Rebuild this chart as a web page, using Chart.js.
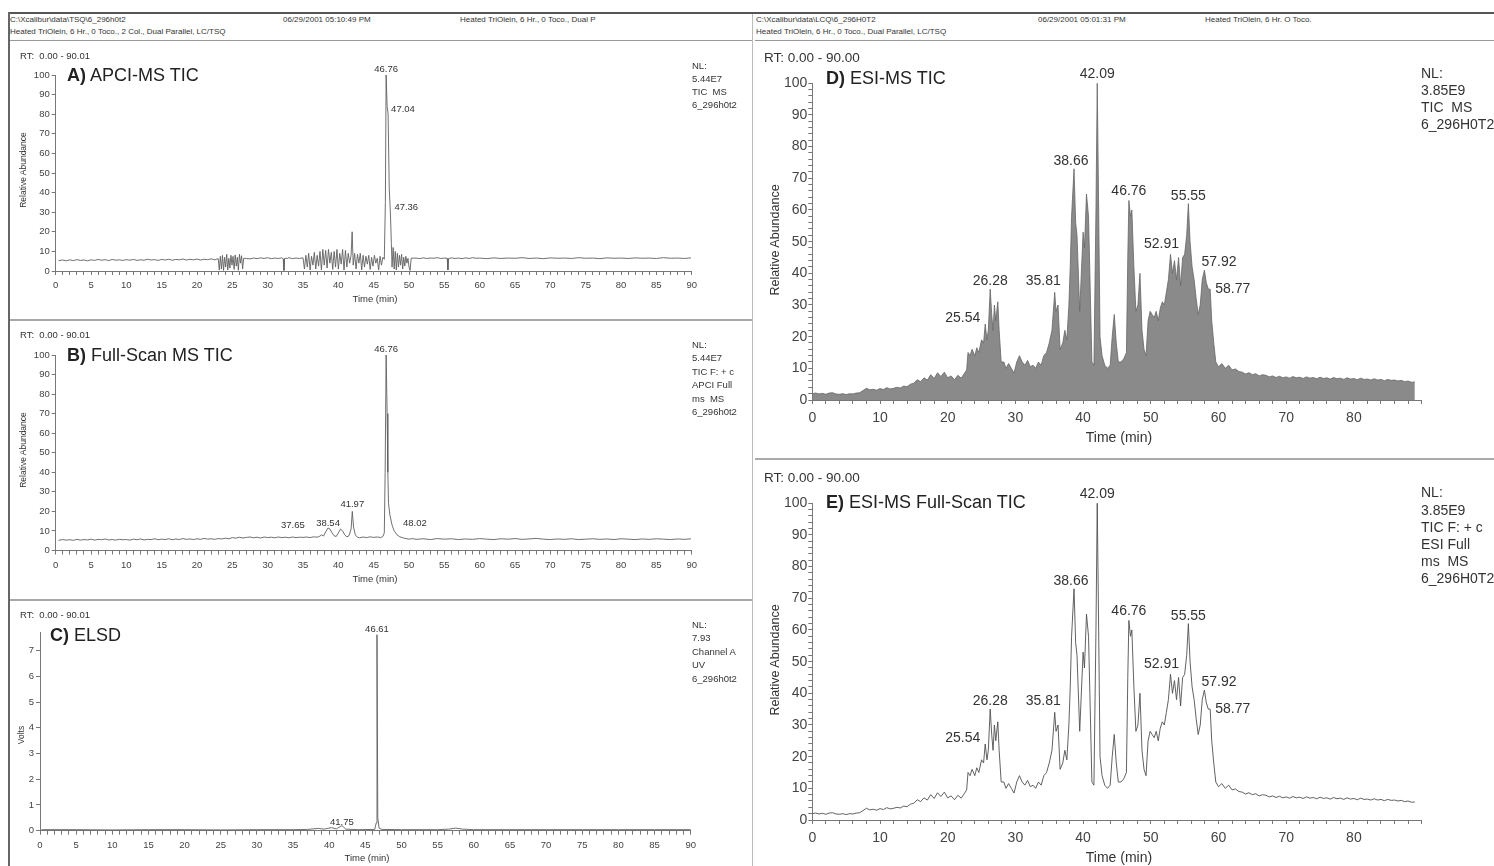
<!DOCTYPE html>
<html><head><meta charset="utf-8">
<script src="https://cdn.jsdelivr.net/npm/chart.js@4.4.1/dist/chart.umd.min.js"></script>
<style>
html,body{margin:0;padding:0;background:#fff;}
#fig{position:relative;width:1494px;height:866px;overflow:hidden;background:#fff;font-family:"Liberation Sans",Arial,sans-serif;color:#333;}
.t{position:absolute;white-space:pre;line-height:1;}
.ln{position:absolute;}
canvas{position:absolute;}
</style></head>
<body><div id="fig">
<div class="ln" style="left:8px;top:12px;width:1486px;height:2px;background:#555"></div>
<div class="ln" style="left:8px;top:12px;width:2px;height:854px;background:#666"></div>
<div class="ln" style="left:10px;top:40px;width:742px;height:1px;background:#999"></div>
<div class="ln" style="left:755px;top:40px;width:739px;height:1px;background:#999"></div>
<div class="ln" style="left:752px;top:14px;width:1px;height:852px;background:#bbb"></div>
<div class="ln" style="left:10px;top:319px;width:742px;height:2px;background:#aaa"></div>
<div class="ln" style="left:10px;top:599px;width:742px;height:2px;background:#aaa"></div>
<div class="ln" style="left:755px;top:458px;width:739px;height:2px;background:#aaa"></div>
<canvas id="cA" width="740" height="278" style="left:10px;top:42px"></canvas>
<canvas id="cB" width="740" height="278" style="left:10px;top:322px"></canvas>
<canvas id="cC" width="740" height="264" style="left:10px;top:602px"></canvas>
<canvas id="cD" width="737" height="412" style="left:757px;top:44px"></canvas>
<canvas id="cE" width="737" height="403" style="left:757px;top:463px"></canvas>
</div>
<script>
// ---------------- DATA ----------------
// A) APCI-MS TIC  [time (min), relative abundance]
const apciTrace = [
[0.4,5.3],[1,5.6],[1.5,5.2],[2,5.7],[2.5,5.3],[3,5.8],[3.5,5.4],[4,5.6],[4.5,5.2],[5,5.7],[5.5,5.4],[6,5.9],[6.5,5.5],[7,5.8],[7.5,5.3],[8,5.9],[8.5,5.5],[9,5.7],[9.5,5.4],[10,5.8],[10.5,5.5],[11,5.9],[11.5,5.4],[12,5.7],[12.5,5.5],[13,6.0],[13.5,5.6],[14,5.8],[14.5,5.4],[15,5.9],[15.5,5.6],[16,6.0],[16.5,5.5],[17,5.9],[17.5,5.7],[18,6.1],[18.5,5.6],[19,6.0],[19.5,5.7],[20,6.1],[20.5,5.6],[21,6.0],[21.5,5.8],[22,6.2],[22.5,5.7],[23,6.3],
[23.15,0.5],[23.3,7.5],[23.45,1],[23.6,8],[23.75,0.3],[23.9,7],[24.05,2],[24.2,8.5],[24.35,0.5],[24.5,6.5],[24.65,1.5],[24.8,8],[24.95,3],[25.1,7.5],[25.25,0.8],[25.4,8.2],[25.55,2.5],[25.7,7],[25.85,0.4],[26.0,8.5],[26.15,4],[26.3,7.8],[26.45,1],[26.6,6.5],
[27,6.4],[27.5,6.2],[28,6.6],[28.5,6.3],[29,6.7],[29.5,6.4],[30,6.8],[30.5,6.3],[31,6.6],[31.5,6.4],[32,6.7],[32.2,6.2],[32.3,0.3],[32.4,6.5],[32.8,6.4],[33,6.8],[33.5,6.3],[34,6.6],[34.5,6.4],[35,6.7],
[35.2,1],[35.4,8],[35.6,2],[35.8,9],[36.0,0.5],[36.2,7.5],[36.4,3],[36.6,9.5],[36.8,1],[37.0,8],[37.2,2.5],[37.4,10],[37.6,0.5],[37.8,11],[38.0,3],[38.2,10.5],[38.4,1.5],[38.6,11],[38.8,4],[39.0,9.5],[39.2,0.8],[39.4,10],[39.6,2],[39.8,11],[40.0,1],[40.2,9],[40.4,3.5],[40.6,11],[40.8,0.5],[41.0,10.5],[41.2,2],[41.4,9],[41.6,4],[41.8,8],[41.95,20],[42.1,3],[42.3,9],[42.5,1],[42.7,8.5],[42.9,4],[43.1,9],[43.3,0.5],[43.5,8],[43.7,2],[43.9,7.5],[44.1,3.5],[44.3,8],[44.5,0.8],[44.7,7],[44.9,2.5],[45.1,8],[45.3,4],[45.5,6.5],[45.7,0.5],[45.9,7.5],[46.1,3],[46.3,7],[46.5,6],
[46.65,35],[46.76,100],[46.9,84],[47.04,80],[47.2,42],[47.36,30],[47.5,14],
[47.6,2],[47.75,12],[47.9,1],[48.05,10],[48.2,0.5],[48.35,9],[48.5,2],[48.65,8],[48.8,3],[48.95,8.5],[49.1,1],[49.25,7],[49.4,2.5],[49.55,7.5],[49.7,4],[49.85,6.5],[50.0,2],[50.15,0.3],[50.3,6.5],
[51,6.6],[51.5,6.3],[52,6.7],[52.5,6.4],[53,6.6],[53.5,6.5],[54,6.8],[54.5,6.4],[55,6.6],[55.4,6.5],[55.5,0.5],[55.6,6.3],[56,6.7],[56.5,6.4],[57,6.6],[57.5,6.3],[58,6.7],[58.5,6.4],[59,6.8],[59.5,6.5],[60,6.6],[61,6.3],[62,6.7],[63,6.4],[64,6.6],[65,6.5],[66,6.8],[67,6.4],[68,6.6],[69,6.3],[70,6.7],[71,6.5],[72,6.6],[73,6.4],[74,6.8],[75,6.5],[76,6.6],[77,6.3],[78,6.7],[79,6.5],[80,6.6],[81,6.4],[82,6.7],[83,6.5],[84,6.6],[85,6.4],[86,6.8],[87,6.5],[88,6.6],[89,6.4],[89.9,6.7]
];
const apciPeaks = ['46.76','47.04','47.36'];

// B) Full-Scan MS TIC
const fullScanTrace = [
[0.4,5.2],[1,5.6],[1.5,5.3],[2,5.5],[2.5,5.2],[3,5.7],[3.5,5.3],[4,5.6],[4.5,5.4],[5,5.8],[5.5,5.3],[6,5.7],[6.5,5.5],[7,5.9],[7.5,5.4],[8,5.6],[8.5,5.3],[9,5.7],[9.5,5.5],[10,5.6],[10.5,5.3],[11,5.8],[11.5,5.5],[12,5.9],[12.5,5.4],[13,5.7],[13.5,5.6],[14,6.0],[14.5,5.5],[15,5.8],[15.5,5.6],[16,6.0],[16.5,5.5],[17,5.9],[17.5,5.6],[18,6.1],[18.5,5.7],[19,5.9],[19.5,5.6],[20,6.0],[20.5,5.7],[21,6.2],[21.5,5.8],[22,6.0],[22.5,5.7],[23,6.1],[23.5,5.9],[24,6.3],[24.5,6.0],[25,6.6],[25.5,6.3],[26,6.8],[26.5,6.4],[27,6.7],[27.5,6.9],[28,6.5],[28.5,6.8],[29,6.4],[29.5,6.9],[30,6.6],[30.5,6.8],[31,6.5],[31.5,6.9],[32,6.6],[32.5,6.8],[33,6.5],[33.5,6.9],[34,6.6],[34.5,6.8],[35,6.7],[35.5,6.9],[36,6.6],[36.5,7.0],[37,6.8],[37.3,7.2],
[37.65,8.0],[37.9,7.4],[38.2,9.5],[38.54,11.5],[38.8,11],[39.1,9],[39.4,7.5],[39.7,7.2],[40.0,9],[40.3,11],[40.6,10],[40.9,8],[41.2,7],[41.5,7.5],[41.8,11],[41.97,20],[42.15,12],[42.4,8],[42.7,6.8],[43.0,6.5],[43.5,6.9],[44,6.6],[44.5,7.0],[45,6.7],[45.5,6.9],[46,6.6],[46.3,7.2],[46.5,9],
[46.62,40],[46.76,100],[46.9,70],[47.0,40],[47.1,24],[47.3,18],[47.6,13],[47.9,10],[48.02,9.5],[48.3,8],[48.7,7],[49.2,6.4],[49.7,6.0],[50,5.8],
[50.5,6.1],[51,5.7],[52,6.0],[53,5.6],[54,6.1],[55,5.8],[56,6.0],[57,5.6],[58,5.9],[59,5.7],[60,6.1],[61,5.8],[62,5.6],[63,6.0],[64,5.8],[65,6.1],[66,5.7],[67,5.9],[68,6.2],[69,5.8],[70,5.6],[71,5.9],[72,5.7],[73,6.0],[74,5.6],[75,5.8],[76,6.0],[77,5.7],[78,5.9],[79,5.6],[80,6.0],[81,5.8],[82,5.6],[83,5.9],[84,5.7],[85,6.0],[86,5.8],[87,5.6],[88,5.9],[89,5.7],[89.9,6.0]
];
const fullScanPeaks = ['37.65','38.54','41.97','46.76','48.02'];

// C) ELSD  [time (min), volts]
const elsdTrace = [
[0.2,0.04],[5,0.04],[10,0.03],[15,0.04],[20,0.04],[25,0.03],[30,0.04],[35,0.04],[37,0.05],[38.5,0.09],[39.3,0.06],[40.3,0.12],[41.0,0.07],[41.75,0.2],[42.3,0.06],[44,0.04],[46.3,0.05],[46.5,0.3],[46.61,7.62],[46.72,0.5],[46.9,0.1],[47.3,0.05],[50,0.04],[55,0.04],[56.5,0.06],[57.5,0.1],[58.5,0.06],[60,0.04],[65,0.04],[70,0.04],[75,0.04],[80,0.04],[85,0.04],[90,0.04]
];
const elsdPeaks = ['41.75','46.61'];

// D/E) ESI-MS TIC  [time (min), relative abundance]
const esiTrace = [
[0,2.0],[0.5,2.2],[1,1.9],[1.5,2.1],[2,1.8],[2.5,2.2],[3,2.3],[3.5,1.9],[4,1.8],[4.5,2.0],[5,1.7],[5.5,2.0],[6,1.9],[6.5,2.2],[7,2.3],[7.5,3.0],[8,3.7],[8.5,3.2],[9,3.4],[9.5,3.1],[10,3.6],[10.5,3.3],[11,3.9],[11.5,3.5],[12,3.7],[12.5,4.0],[13,3.8],[13.5,4.4],[14,4.2],[14.5,5.0],[15,5.3],[15.5,6.4],[16,5.8],[16.5,7.0],[17,6.3],[17.5,8.0],[18,6.8],[18.5,8.6],[19,7.4],[19.5,8.8],[20,7.0],[20.5,7.6],[21,6.4],[21.5,7.8],[22,6.9],[22.5,8.5],[22.8,9.5],
[23,15],[23.3,14],[23.6,16],[24,14],[24.3,16.5],[24.6,15],[25,19],[25.3,18],[25.54,24],[25.8,19],[26.0,22],[26.28,35],[26.5,27],[26.7,22],[26.9,30],[27.1,25],[27.4,31],[27.6,22],[27.9,12],[28.3,12],[28.6,10],[29.0,11.5],[29.4,10],[29.8,8.5],[30.2,12],[30.6,14],[31.0,12],[31.4,11],[31.8,12.5],[32.2,10.5],[32.6,11],[33.0,10],[33.4,12],[33.8,11],[34.2,14],[34.6,15],[35.0,18],[35.4,22],[35.81,34],[36.0,28],[36.3,30],[36.6,16],[37.0,18],[37.3,22],[37.6,19],[37.9,30],[38.1,42],[38.3,58],[38.66,73],[38.9,56],[39.1,52],[39.5,28],[40.0,53],[40.2,48],[40.5,65],[40.8,58],[41.0,40],[41.3,12],[41.6,11],[41.9,60],[42.09,100],[42.3,60],[42.5,20],[42.8,14],[43.2,11],[43.6,10],[44.0,11],[44.3,20],[44.6,27],[44.9,18],[45.2,12],[45.6,12],[46.0,13],[46.4,15],[46.6,45],[46.76,63],[47.0,58],[47.2,60],[47.5,42],[47.8,28],[48.1,30],[48.4,40],[48.7,22],[49.0,16],[49.3,14],[49.6,25],[49.9,28],[50.2,27],[50.5,26],[50.8,28],[51.1,25],[51.4,29],[51.7,31],[52.0,30],[52.3,34],[52.6,38],[52.91,46],[53.2,40],[53.5,44],[53.8,38],[54.1,45],[54.4,36],[54.7,45],[55.0,46],[55.3,52],[55.55,62],[55.8,50],[56.1,42],[56.4,38],[56.7,32],[57.0,27],[57.3,30],[57.6,38],[57.92,41],[58.2,37],[58.5,35],[58.77,35],[59.0,25],[59.3,18],[59.6,12],
[60.0,10.5],[60.5,11.5],[61.0,10],[61.5,11],[62.0,9.5],[62.5,9.8],[63,9],[63.5,8.8],[64,8.2],[64.5,8.6],[65,8.0],[65.5,8.3],[66,7.6],[66.5,8.0],[67,7.8],[67.5,7.3],[68,7.6],[68.5,7.1],[69,7.5],[69.5,7.0],[70,7.3],[70.5,6.9],[71,7.4],[71.5,7.0],[72,7.2],[72.5,6.8],[73,7.3],[73.5,6.9],[74,7.1],[74.5,6.7],[75,7.2],[75.5,6.8],[76,7.0],[76.5,6.6],[77,7.1],[77.5,6.7],[78,6.9],[78.5,6.5],[79,7.0],[79.5,6.6],[80,6.8],[80.5,6.4],[81,6.9],[81.5,6.5],[82,6.6],[82.5,6.3],[83,6.7],[83.5,6.3],[84,6.5],[84.5,6.1],[85,6.5],[85.5,6.2],[86,6.3],[86.5,6.0],[87,6.2],[87.5,5.8],[88,6.0],[88.5,5.6],[89,5.7]
];
const esiPeaks = ['25.54','26.28','35.81','38.66','42.09','46.76','52.91','55.55','57.92','58.77'];

// Tick label values
const timeTicksLeft = [0,5,10,15,20,25,30,35,40,45,50,55,60,65,70,75,80,85,90];
const abundTicksLeft = [0,10,20,30,40,50,60,70,80,90,100];
const voltTicks = [0,1,2,3,4,5,6,7];
const timeTicksRight = [0,10,20,30,40,50,60,70,80];
const abundTicksRight = [0,10,20,30,40,50,60,70,80,90,100];

// ---------------- STYLE ----------------
const FONT = '"Liberation Sans", Arial, sans-serif';
const fig = document.getElementById('fig');
function T(html, left, cy, size, o) {
  o = o || {};
  const d = document.createElement('div');
  d.className = 't';
  d.innerHTML = html;
  d.style.fontSize = size + 'px';
  d.style.color = o.color || '#333';
  if (o.center) {
    d.style.left = left + 'px'; d.style.top = cy + 'px';
    d.style.transform = 'translate(-50%,-50%)' + (o.rot ? ' rotate(' + o.rot + 'deg)' : '');
  } else {
    d.style.left = left + 'px'; d.style.top = (cy - size * 0.5) + 'px';
  }
  fig.appendChild(d);
}
function range(a, b, s) { const r = []; for (let v = a; v <= b + 1e-9; v += s) r.push(Math.round(v * 100) / 100); return r; }

const peakLabelPlugin = {
  id: 'peakLabels',
  afterDatasetsDraw(chart, args, opts) {
    if (!opts || !opts.names) return;
    const ctx = chart.ctx, xs = chart.scales.x, ys = chart.scales.y;
    const pts = chart.data.datasets[0].data;
    ctx.save();
    ctx.font = opts.font; ctx.fillStyle = opts.color; ctx.textBaseline = 'alphabetic';
    opts.names.forEach((name, i) => {
      const t = parseFloat(name);
      const st = opts.styles[i] || {};
      let best = pts[0];
      pts.forEach(p => { if (Math.abs(p.x - t) < Math.abs(best.x - t)) best = p; });
      const px = xs.getPixelForValue(t) + (st.dx || 0);
      const py = ys.getPixelForValue(best.y) - 3 + (st.dy || 0);
      ctx.textAlign = st.a || 'center';
      ctx.fillText(name, px, py);
    });
    ctx.restore();
  }
};

function panel(id, c) {
  const cv = document.getElementById(id);
  const W = cv.width, H = cv.height;
  const a = c.area;
  const yW = a.l - 2, xH = H - a.b - 2;
  const tickFont = { family: FONT, size: c.tickSize };
  return new Chart(cv, {
    type: 'line',
    data: { datasets: [{
      data: c.trace.map(p => ({ x: p[0], y: p[1] })),
      borderColor: c.line, borderWidth: c.lw,
      backgroundColor: c.fill || 'rgba(0,0,0,0)', fill: c.fill ? 'origin' : false,
      pointRadius: 0, tension: 0, clip: false
    }] },
    options: {
      responsive: false, animation: false, events: [],
      layout: { padding: { left: 2, top: a.t, right: W - a.r, bottom: 2 } },
      plugins: {
        legend: { display: false }, tooltip: { enabled: false },
        peakLabels: { names: c.peaks, styles: c.peakStyles, font: c.labelFont, color: '#333' }
      },
      scales: {
        x: {
          type: 'linear', position: 'bottom', min: 0, max: c.xMax,
          afterBuildTicks: s => { s.ticks = c.xTicks.map(v => ({ value: v })); },
          afterFit: s => { s.height = xH; },
          ticks: { autoSkip: false, maxRotation: 0, minRotation: 0, padding: c.xPad, font: tickFont, color: '#444',
                   callback: v => c.xLabels.includes(v) ? String(v) : '' },
          grid: { drawOnChartArea: false, tickLength: 4, color: '#777' },
          border: { color: '#777', width: 1 }
        },
        y: {
          type: 'linear', position: 'left', min: 0, max: c.yMax,
          afterBuildTicks: s => { s.ticks = c.yTicks.map(v => ({ value: v })); },
          afterFit: s => { s.width = yW; },
          ticks: { autoSkip: false, padding: c.yPad, font: tickFont, color: '#444',
                   callback: v => c.yLabels.includes(v) ? String(v) : '' },
          grid: { drawOnChartArea: false, tickLength: 4, color: '#777' },
          border: { color: '#777', width: 1 }
        }
      }
    },
    plugins: [peakLabelPlugin]
  });
}

const leftCommon = { xMax: 90, xTicks: range(0, 90, 1), xLabels: timeTicksLeft, tickSize: 9.5, xPad: 5, yPad: 2,
  labelFont: '9.5px ' + FONT, line: '#606060', lw: 0.9 };
panel('cA', Object.assign({}, leftCommon, {
  trace: apciTrace, peaks: apciPeaks,
  peakStyles: [{ a: 'center' }, { a: 'left', dx: 3, dy: 1 }, { a: 'left', dx: 4, dy: 1 }],
  area: { l: 45.7, r: 681.7, t: 33, b: 229 }, yMax: 100, yTicks: abundTicksLeft, yLabels: abundTicksLeft
}));
panel('cB', Object.assign({}, leftCommon, {
  trace: fullScanTrace, peaks: fullScanPeaks,
  peakStyles: [{ a: 'right', dx: -17, dy: -4 }, { a: 'center', dy: 1 }, { a: 'center', dy: -1 }, { a: 'center' }, { a: 'left', dx: 8, dy: -3 }],
  area: { l: 45.7, r: 681.7, t: 33, b: 228.5 }, yMax: 100, yTicks: abundTicksLeft, yLabels: abundTicksLeft
}));
panel('cC', Object.assign({}, leftCommon, {
  trace: elsdTrace, peaks: elsdPeaks,
  peakStyles: [{ a: 'center', dy: 2 }, { a: 'center' }],
  area: { l: 30, r: 680.7, t: 30.7, b: 228.7 }, yMax: 7.7, yTicks: voltTicks, yLabels: voltTicks
}));
const esiStyles = [{ a: 'right', dx: -5, dy: 1 }, { a: 'center', dy: -1 }, { a: 'right', dx: 6, dy: -4 }, { a: 'center', dx: -3, dy: -1 },
  { a: 'center', dy: -2 }, { a: 'center', dy: -2.5 }, { a: 'center', dx: -9, dy: -3 }, { a: 'center', dy: -1 },
  { a: 'left', dx: -3, dy: -1.5 }, { a: 'left', dx: 5, dy: 7 }];
const rightCommon = { xMax: 90, xTicks: range(0, 90, 2), xLabels: timeTicksRight, yMax: 100, yTicks: range(0, 100, 2),
  yLabels: abundTicksRight, tickSize: 14, xPad: 6, yPad: 1, labelFont: '14px ' + FONT, peaks: esiPeaks, peakStyles: esiStyles, trace: esiTrace };
panel('cD', Object.assign({}, rightCommon, { area: { l: 55.3, r: 664.6, t: 39.3, b: 356 }, line: '#666666', lw: 0.8, fill: '#8a8a8a' }));
panel('cE', Object.assign({}, rightCommon, { area: { l: 55.3, r: 664.6, t: 40.3, b: 357 }, line: '#505050', lw: 0.9 }));

// ---------------- TEXT ----------------
T('C:\\Xcalibur\\data\\TSQ\\6_296h0t2', 10, 20, 8);
T('Heated TriOlein, 6 Hr., 0 Toco., 2 Col., Dual Parallel, LC/TSQ', 10, 32, 8);
T('06/29/2001 05:10:49 PM', 283, 20, 8);
T('Heated TriOlein, 6 Hr., 0 Toco., Dual P', 460, 20, 8);
T('C:\\Xcalibur\\data\\LCQ\\6_296H0T2', 756, 20, 8);
T('Heated TriOlein, 6 Hr., 0 Toco., Dual Parallel, LC/TSQ', 756, 32, 8);
T('06/29/2001 05:01:31 PM', 1038, 20, 8);
T('Heated TriOlein, 6 Hr. O Toco.', 1205, 20, 8);

T('RT:  0.00 - 90.01', 20, 56, 9.5);
T('RT:  0.00 - 90.01', 20, 335, 9.5);
T('RT:  0.00 - 90.01', 20, 615, 9.5);
T('RT: 0.00 - 90.00', 764, 58, 13.5);
T('RT: 0.00 - 90.00', 764, 478, 13.5);

T('<b>A)</b> APCI-MS TIC', 67, 75, 18, { color: '#222' });
T('<b>B)</b> Full-Scan MS TIC', 67, 355, 18, { color: '#222' });
T('<b>C)</b> ELSD', 50, 635, 18, { color: '#222' });
T('<b>D)</b> ESI-MS TIC', 826, 78, 18, { color: '#222' });
T('<b>E)</b> ESI-MS Full-Scan TIC', 826, 502, 18, { color: '#222' });

function NL(x, ys, lines, size) { lines.forEach((s, i) => T(s, x, ys[i], size)); }
NL(692, [66, 79, 92, 105], ['NL:', '5.44E7', 'TIC  MS', '6_296h0t2'], 9.5);
NL(692, [345, 358, 372, 385, 399, 412], ['NL:', '5.44E7', 'TIC F: + c', 'APCI Full', 'ms  MS', '6_296h0t2'], 9.5);
NL(692, [625, 638, 652, 665, 679], ['NL:', '7.93', 'Channel A', 'UV', '6_296h0t2'], 9.5);
NL(1421, [73, 89.5, 107, 124], ['NL:', '3.85E9', 'TIC  MS', '6_296H0T2'], 14);
NL(1421, [492, 509.5, 527, 544, 561, 578], ['NL:', '3.85E9', 'TIC F: + c', 'ESI Full', 'ms  MS', '6_296H0T2'], 14);

T('Time (min)', 375, 299, 9.5, { center: true });
T('Time (min)', 375, 579, 9.5, { center: true });
T('Time (min)', 367, 858, 9.5, { center: true });
T('Time (min)', 1119, 437, 14, { center: true });
T('Time (min)', 1119, 857, 14, { center: true });
T('Relative Abundance', 23, 170, 8.5, { center: true, rot: -90 });
T('Relative Abundance', 23, 450, 8.5, { center: true, rot: -90 });
T('Volts', 21, 735, 8.5, { center: true, rot: -90 });
T('Relative Abundance', 775, 240, 12.5, { center: true, rot: -90 });
T('Relative Abundance', 775, 660, 12.5, { center: true, rot: -90 });
</script>
</body></html>
